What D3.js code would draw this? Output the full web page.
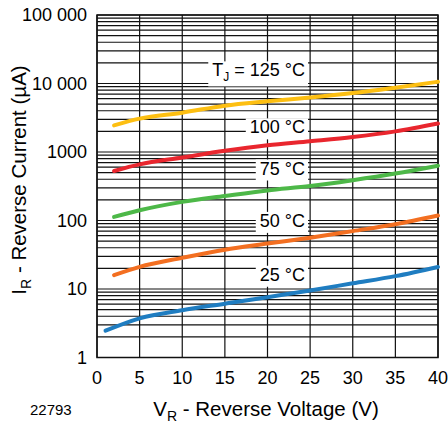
<!DOCTYPE html>
<html>
<head>
<meta charset="utf-8">
<script src="https://cdn.jsdelivr.net/npm/d3@7"></script>
<style>
  body { margin: 0; background: #fff; }
  svg { display: block; font-family: "Liberation Sans", Arial, sans-serif; }
</style>
</head>
<body>
<div id="graph"></div>
<script>
// reverse voltage (V) sample points
const voltage = [2, 5, 10, 15, 20, 25, 30, 35, 40];
const voltage25 = [1, 5, 10, 15, 20, 25, 30, 35, 40];

// reverse current (uA) per junction temperature
const current125 = [2450, 3070, 3750, 4750, 5500, 6250, 7250, 8700, 10600];
const current100 = [528, 660, 830, 1040, 1250, 1430, 1650, 2000, 2600];
const current75 = [113, 141, 187, 228, 275, 318, 387, 484, 630];
const current50 = [15.9, 21, 28.5, 37.5, 46, 56, 70, 88, 118];
const current25 = [2.46, 3.73, 4.9, 6.1, 7.6, 9.5, 12.1, 15.4, 21];

const xTicks = [0, 5, 10, 15, 20, 25, 30, 35, 40];
const yTicks = [1, 10, 100, 1000, 10000, 100000];
const yTickLabels = ["1", "10", "100", "1000", "10 000", "100 000"];

const labels = ["125 °C", "100 °C", "75 °C", "50 °C", "25 °C"];
const labelV = [24.4, 24.4, 24.4, 24.4, 24.4];
const labelI = [12700, 1870, 469, 80.7, 13.2];

const fullwidth = 448;
const fullheight = 424;
const margin = {top: 15, right: 10, bottom: 66.5, left: 97};
const width = fullwidth - margin.left - margin.right;
const height = fullheight - margin.top - margin.bottom;

var series = [
  {v: voltage, i: current125, color: "#FDBF12"},
  {v: voltage, i: current100, color: "#E9262E"},
  {v: voltage, i: current75, color: "#4DB848"},
  {v: voltage, i: current50, color: "#F36F21"},
  {v: voltage25, i: current25, color: "#1F7DC1"}
];

var svg = d3.select("#graph").
append("svg").
attr("width", fullwidth).
attr("height", fullheight);

var g = svg.append("g").attr("transform", "translate(" + margin.left + "," + margin.top + ")");

var x = d3.scaleLinear().domain([0, 40]).range([0, width]);
var y = d3.scaleLog().domain([1, 100000]).range([height, 0]);

// grid: every minor decade step
var hLines = [];
for (var n = 0; n < 5; ++n) {
  for (var k = 1; k < 10; ++k) hLines.push(k * Math.pow(10, n));
}
hLines.push(100000);

g.selectAll("line.h").
data(hLines).
enter().append("line").
attr("class", "h").
attr("x1", 0).
attr("x2", width).
attr("y1", d => y(d)).
attr("y2", d => y(d)).
style("stroke", "#111").
style("stroke-width", 1.2);

g.selectAll("line.v").
data(xTicks).
enter().append("line").
attr("class", "v").
attr("x1", d => x(d)).
attr("x2", d => x(d)).
attr("y1", 0).
attr("y2", height).
style("stroke", "#111").
style("stroke-width", 1.2);

g.append("rect").
attr("width", width).
attr("height", height).
style("fill", "none").
style("stroke", "#111").
style("stroke-width", 1.5);

// curve labels with white boxes
var lab = g.selectAll("g.lab").
data(labels).
enter().append("g").
attr("class", "lab");

lab.append("rect").attr("class", "bg").style("fill", "#fff");
lab.append("text").
attr("x", (d, i) => x(labelV[i])).
attr("y", (d, i) => y(labelI[i])).
attr("text-anchor", "end").
style("font-size", "18px").
each(function (d, i) {
  var t = d3.select(this);
  if (i == 0) {
    t.append("tspan").text("T");
    t.append("tspan").attr("dy", 5).style("font-size", "12px").text("J");
    t.append("tspan").attr("dy", -5).text(" = " + d);
  } else {
    t.text(d);
  }
});

lab.each(function () {
  var b = d3.select(this).select("text").node().getBBox();
  d3.select(this).select("rect").
  attr("x", b.x - 4).
  attr("y", b.y + 1).
  attr("width", b.width + 7).
  attr("height", b.height + 1);
});

// curves
var line = d3.line().
x(d => x(d[0])).
y(d => y(d[1])).
curve(d3.curveMonotoneX);

g.selectAll("path.curve").
data(series).
enter().append("path").
attr("class", "curve").
attr("d", d => line(d.v.map((v, j) => [v, d.i[j]]))).
style("fill", "none").
style("stroke", d => d.color).
style("stroke-width", 4).
style("stroke-linecap", "round");

// tick labels
g.selectAll("text.xt").
data(xTicks).
enter().append("text").
attr("class", "xt").
attr("x", d => x(d)).
attr("y", height + 26.5).
attr("text-anchor", "middle").
style("font-size", "18px").
text(d => d);

g.selectAll("text.yt").
data(yTicks).
enter().append("text").
attr("class", "yt").
attr("x", -10).
attr("y", d => y(d)).
attr("dy", "0.35em").
attr("text-anchor", "end").
style("font-size", "18px").
text((d, i) => yTickLabels[i]);

// axis titles
var xt = svg.append("text").
attr("x", 266).
attr("y", 416).
attr("text-anchor", "middle").
style("font-size", "20.5px");
xt.append("tspan").text("V");
xt.append("tspan").attr("dy", 5).style("font-size", "14px").text("R");
xt.append("tspan").attr("dy", -5).text(" - Reverse Voltage (V)");

var yt = svg.append("text").
attr("transform", "translate(26,180) rotate(-90)").
attr("text-anchor", "middle").
style("font-size", "20.5px");
yt.append("tspan").text("I");
yt.append("tspan").attr("dy", 5).style("font-size", "14px").text("R");
yt.append("tspan").attr("dy", -5).text(" - Reverse Current (µA)");

svg.append("text").
attr("x", 30).
attr("y", 415).
style("font-size", "15px").
text("22793");
</script>
</body>
</html>
